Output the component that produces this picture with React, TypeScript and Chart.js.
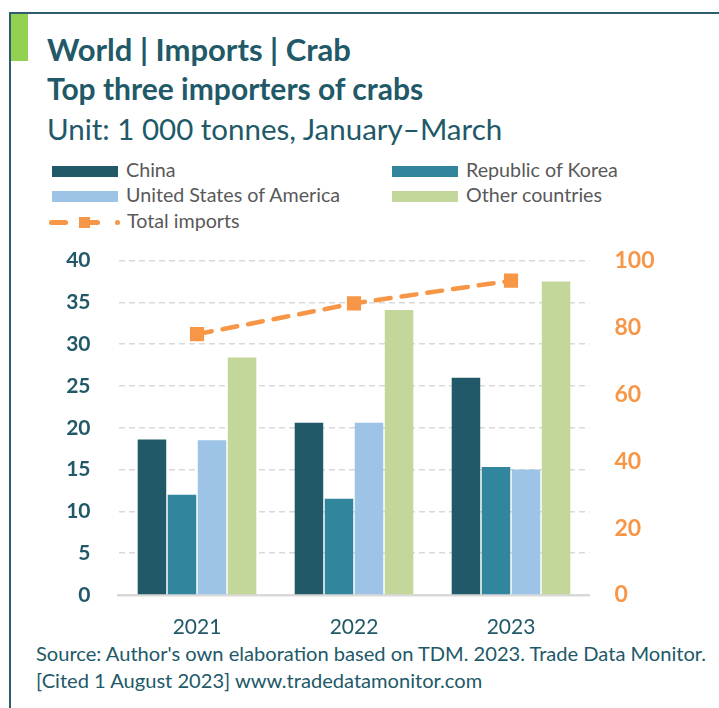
import React, { useEffect, useRef } from 'react';
import { Chart, registerables } from 'chart.js';

Chart.register(...registerables);

// ---- data ----
const categories = ['2021', '2022', '2023'];
const chinaValues = [18.6, 20.6, 26.0];
const koreaValues = [12.0, 11.5, 15.3];
const usaValues = [18.5, 20.6, 15.0];
const otherValues = [28.4, 34.1, 37.5];
const totalImports = [78.0, 87.2, 94.0];
const seriesNames = ['China', 'Republic of Korea', 'United States of America', 'Other countries'];
const totalName = 'Total imports';

const titleText = 'World | Imports | Crab';
const subtitleText = 'Top three importers of crabs';
const unitText = 'Unit: 1 000 tonnes, January\u2013March';
const sourceLines = [
  "Source: Author's own elaboration based on TDM. 2023. Trade Data Monitor.",
  '[Cited 1 August 2023] www.tradedatamonitor.com',
];

// ---- styles ----
const barColors = ['#215968', '#31859C', '#9DC3E6', '#C4D79B'];
const orange = '#F79646';
const teal = '#215968';
const FONT = 'Lato, "Open Sans", sans-serif';

export default function App() {
  const canvasRef = useRef<HTMLCanvasElement | null>(null);

  useEffect(() => {
    if (!canvasRef.current) return;
    const seriesValues = [chinaValues, koreaValues, usaValues, otherValues];
    const chart = new Chart(canvasRef.current, {
      data: {
        labels: categories,
        datasets: [
          {
            type: 'line',
            label: totalName,
            data: totalImports,
            yAxisID: 'y1',
            borderColor: orange,
            backgroundColor: orange,
            borderWidth: 4.5,
            borderDash: [15, 11],
            borderCapStyle: 'round',
            pointStyle: 'rect',
            pointRadius: 10,
            pointBackgroundColor: orange,
            pointBorderWidth: 0,
            fill: false,
            tension: 0,
            order: 0,
          } as any,
          ...seriesNames.map((name, i) => ({
            type: 'bar' as const,
            label: name,
            data: seriesValues[i],
            yAxisID: 'y',
            backgroundColor: barColors[i],
            borderWidth: 0,
            barPercentage: 0.95,
            categoryPercentage: 0.765,
            order: 1,
          })),
        ],
      },
      options: {
        animation: false,
        responsive: false,
        maintainAspectRatio: false,
        layout: { padding: 0 },
        plugins: {
          legend: { display: false },
          tooltip: { enabled: false },
          title: { display: false },
        },
        scales: {
          x: {
            grid: { display: false, drawTicks: false },
            border: { display: true, color: '#D9D9D9', width: 2.5 },
            ticks: {
              color: teal,
              padding: 20,
              font: { family: FONT, size: 21 },
            },
            afterFit: (s: any) => { s.height = 45; },
          },
          y: {
            position: 'left',
            min: 0,
            max: 40,
            ticks: {
              stepSize: 5,
              color: teal,
              padding: 28,
              font: { family: FONT, size: 21, weight: 'bold' },
            },
            grid: { color: '#D9D9D9', lineWidth: 1.5, drawTicks: false },
            border: { display: false, dash: [6, 4] },
            afterFit: (s: any) => { s.width = 118.5; },
          },
          y1: {
            position: 'right',
            min: 0,
            max: 100,
            ticks: {
              stepSize: 20,
              color: orange,
              padding: 25,
              font: { family: FONT, size: 23, weight: 'bold' },
            },
            grid: { display: false, drawTicks: false },
            border: { display: false },
            afterFit: (s: any) => { s.width = 129.5; },
          },
        },
      } as any,
    });
    return () => chart.destroy();
  }, []);

  const legendText: React.CSSProperties = {
    position: 'absolute',
    fontFamily: FONT,
    fontSize: 19.7,
    lineHeight: '22px',
    color: '#595959',
    whiteSpace: 'nowrap',
  };
  const legendItems = seriesNames.map((name, i) => {
    const col = i % 2;
    const row = Math.floor(i / 2);
    const sx = col === 0 ? 52 : 392;
    const tx = col === 0 ? 126 : 466;
    const cy = 171 + row * 25.5;
    return (
      <React.Fragment key={name}>
        <div style={{ position: 'absolute', left: sx, top: cy - 5.5, width: 66, height: 11, background: barColors[i] }} />
        <div style={{ ...legendText, left: tx, top: cy - 12.5 }}>{name}</div>
      </React.Fragment>
    );
  });

  return (
    <div style={{ position: 'absolute', left: 0, top: 0, width: 719, height: 708, background: '#fff', overflow: 'hidden' }}>
      {/* frame */}
      <div style={{ position: 'absolute', left: 9, top: 12, width: 710, height: 2, background: '#2E5E6E' }} />
      <div style={{ position: 'absolute', left: 9, top: 12, width: 2, height: 696, background: '#2E5E6E' }} />
      <div style={{ position: 'absolute', left: 11, top: 14, width: 17, height: 47, background: '#92D050' }} />
      {/* titles */}
      <div style={{ position: 'absolute', left: 47, top: 32, fontFamily: FONT, fontWeight: 700, fontSize: 31, lineHeight: '34px', color: teal, whiteSpace: 'nowrap' }}>{titleText}</div>
      <div style={{ position: 'absolute', left: 47, top: 71.4, fontFamily: FONT, fontWeight: 700, fontSize: 30, lineHeight: '34px', color: teal, whiteSpace: 'nowrap' }}>{subtitleText}</div>
      <div style={{ position: 'absolute', left: 47, top: 111.6, fontFamily: FONT, fontWeight: 400, fontSize: 29.5, lineHeight: '34px', color: teal, whiteSpace: 'nowrap' }}>{unitText}</div>
      {/* legend */}
      {legendItems}
      <div style={{ position: 'absolute', left: 49, top: 220, width: 19, height: 4.5, borderRadius: 2.5, background: orange }} />
      <div style={{ position: 'absolute', left: 79, top: 217, width: 11, height: 11, background: orange }} />
      <div style={{ position: 'absolute', left: 88, top: 220, width: 12, height: 4.5, borderRadius: 2.5, background: orange }} />
      <div style={{ position: 'absolute', left: 115, top: 220, width: 4.5, height: 4.5, borderRadius: 2.5, background: orange }} />
      <div style={{ ...legendText, left: 127, top: 209.5 }}>{totalName}</div>
      {/* chart */}
      <div style={{ position: 'absolute', left: 0, top: 220, width: 719, height: 420 }}>
        <canvas ref={canvasRef} width={719} height={420} style={{ width: 719, height: 420 }} />
      </div>
      {/* source */}
      {sourceLines.map((line, i) => (
        <div key={i} style={{ position: 'absolute', left: 36, top: 641.5 + i * 27, fontFamily: FONT, fontSize: 20.1, lineHeight: '22px', color: teal, whiteSpace: 'nowrap' }}>{line}</div>
      ))}
    </div>
  );
}
